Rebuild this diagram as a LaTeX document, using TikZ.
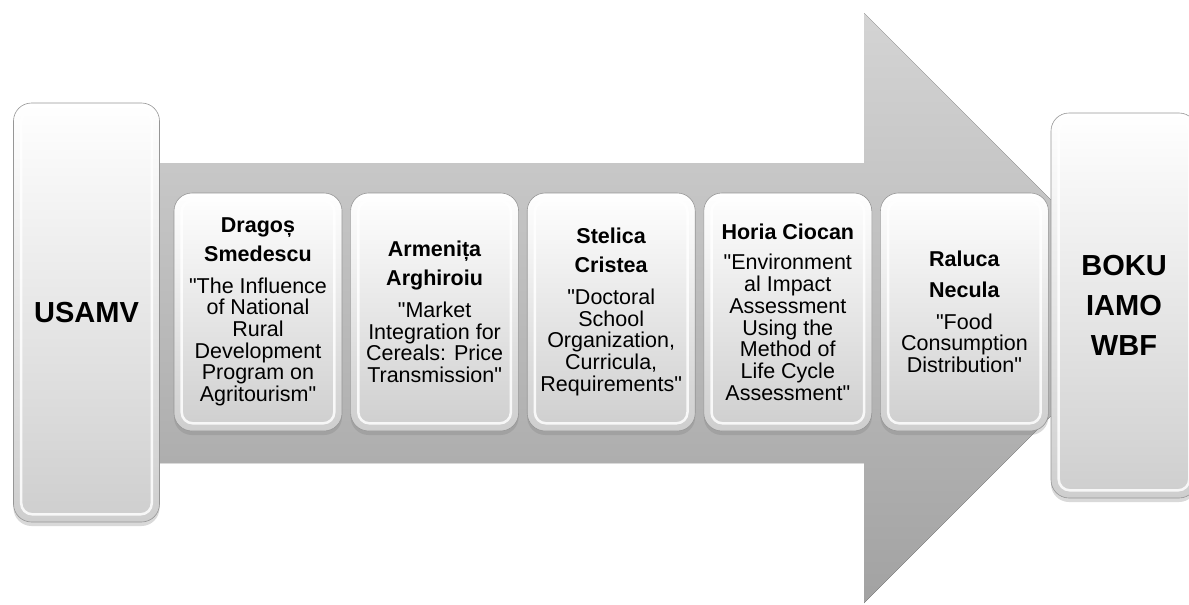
\documentclass[tikz,border=0pt]{standalone}
\usepackage{fontspec}
\setmainfont{Liberation Sans}
\usepackage{tikz}
\usetikzlibrary{positioning, shadows}

\definecolor{arrowtop}{RGB}{212,212,212}
\definecolor{arrowbot}{RGB}{162,162,162}
\definecolor{boxbot}{RGB}{206,206,206}
\definecolor{boxline}{RGB}{150,150,150}

% straight quote, without the TeX mapping
\font\qfont="Liberation Sans" at 21.5pt
\newcommand{\qt}{{\qfont\symbol{34}}}

\tikzset{
    panel/.style={draw=boxline, line width=0.6pt, rounded corners=18pt,
        top color=white, bottom color=boxbot, inner sep=0pt, align=center,
        drop shadow={shadow xshift=0pt, shadow yshift=-4pt, opacity=0.3}},
    presenter/.style={panel, minimum width=168pt, minimum height=238pt,
        font=\fontsize{21.5}{21.7}\selectfont},
    institute/.style={panel, minimum width=146pt,
        font=\fontsize{29}{40}\selectfont\bfseries},
}

\begin{document}
\begin{tikzpicture}[x=1pt, y=-1pt]
    \useasboundingbox (0,0) rectangle (1189,605);
    % Big arrow
    \fill[top color=arrowtop, bottom color=arrowbot]
        (120,163) -- (864,163) -- (864,13) -- (1159,308)
        -- (864,603) -- (864,463) -- (120,463) -- cycle;
    % Institutes
    \node[institute, minimum height=419pt] (usamv) at (86.5,312.5) {USAMV};
    \node[institute, minimum height=385pt] (boku) at (1124,305.5) {BOKU\\ IAMO\\ WBF};
    % Presenters
    \node[presenter] (p1) at (258,312)
        {\textbf{Dragoș}\\[7pt] \textbf{Smedescu}\\[10pt]
         \qt The Influence\\ of National\\ Rural\\ Development\\ Program on\\ Agritourism\qt};
    \node[presenter, right=8pt of p1] (p2)
        {\textbf{Armenița}\\[7pt] \textbf{Arghiroiu}\\[10pt]
         \qt Market\\ Integration for\\ Cereals: Price\\ Transmission\qt};
    \node[presenter, right=8pt of p2] (p3)
        {\textbf{Stelica}\\[7pt] \textbf{Cristea}\\[10pt]
         \qt Doctoral\\ School\\ Organization,\\ Curricula,\\ Requirements\qt};
    \node[presenter, right=8pt of p3] (p4)
        {\textbf{Horia Ciocan}\\[9pt]
         \qt Environment\\ al Impact\\ Assessment\\ Using the\\ Method of\\ Life Cycle\\ Assessment\qt};
    \node[presenter, right=8pt of p4] (p5)
        {\textbf{Raluca}\\[9pt] \textbf{Necula}\\[10pt]
         \qt Food\\ Consumption\\ Distribution\qt};
    % Inner highlight
    \foreach \n in {usamv,p1,p2,p3,p4,p5,boku}
        \draw[white, line width=2.5pt, rounded corners=11pt, opacity=0.85]
            ([shift={(8pt,-8pt)}]\n.north west) rectangle ([shift={(-8pt,8pt)}]\n.south east);
\end{tikzpicture}
\end{document}
